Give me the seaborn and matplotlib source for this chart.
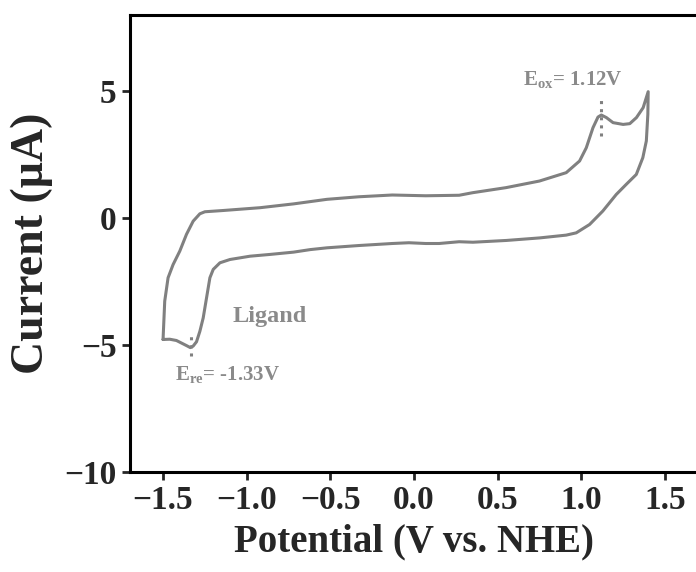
import numpy as np
import matplotlib
matplotlib.use("Agg")
import matplotlib.pyplot as plt
import pandas as pd
import seaborn as sns

# Cyclic voltammogram of the ligand
potential = [-1.50, -1.49, -1.47, -1.44, -1.40, -1.36, -1.32, -1.28, -1.25, -1.14,
             -0.92, -0.72, -0.52, -0.33, -0.13, 0.07, 0.27, 0.35, 0.55, 0.75,
             0.91, 0.99, 1.03, 1.07, 1.10, 1.12, 1.15, 1.19, 1.25, 1.29,
             1.33, 1.37, 1.40,
             1.398, 1.389, 1.368, 1.329, 1.269, 1.209, 1.129, 1.050, 0.970, 0.910,
             0.751, 0.552, 0.352, 0.27, 0.15, 0.07, -0.03, -0.13, -0.33, -0.52,
             -0.62, -0.72, -0.86, -0.98, -1.10, -1.16, -1.20, -1.22, -1.24, -1.26,
             -1.28, -1.30, -1.32, -1.337, -1.36, -1.39, -1.42, -1.46, -1.50]
current = [-4.78, -3.27, -2.35, -1.83, -1.30, -0.64, -0.12, 0.17, 0.25, 0.30,
           0.41, 0.56, 0.74, 0.84, 0.91, 0.88, 0.90, 1.00, 1.20, 1.46,
           1.79, 2.25, 2.77, 3.56, 3.98, 4.06, 3.96, 3.76, 3.69, 3.72,
           3.96, 4.35, 4.98,
           4.09, 3.04, 2.38, 1.72, 1.33, 0.93, 0.28, -0.25, -0.58, -0.67,
           -0.78, -0.88, -0.95, -0.93, -1.00, -1.00, -0.97, -1.00, -1.08, -1.17,
           -1.24, -1.34, -1.43, -1.50, -1.63, -1.76, -2.02, -2.35, -3.14, -3.93,
           -4.46, -4.87, -5.04, -5.10, -5.02, -4.92, -4.82, -4.77, -4.78]

e_ox = 1.12
e_re = -1.33
ox_marker = [3.23, 4.74]
re_marker = [-5.44, -4.52]

df = pd.DataFrame({"Potential": potential, "Current": current})

sns.set_theme(style="ticks")
plt.rcParams["font.family"] = ["Liberation Serif", "DejaVu Serif"]
plt.rcParams["font.weight"] = "bold"
plt.rcParams["mathtext.fontset"] = "custom"
plt.rcParams["mathtext.rm"] = "Liberation Serif:bold"
plt.rcParams["mathtext.bf"] = "Liberation Serif:bold"

line_grey = "#808080"
text_grey = "#8a8a8a"

fig = plt.figure(figsize=(6.96, 5.72), dpi=100)
ax = fig.add_axes([0.1862, 0.1748, 0.8172, 0.799])

sns.lineplot(data=df, x="Potential", y="Current", sort=False, estimator=None,
             color=line_grey, linewidth=2.2, ax=ax)

# peak markers
ax.plot([e_ox, e_ox], ox_marker, linestyle=":", color=line_grey, linewidth=2.2)
ax.plot([e_re, e_re], re_marker, linestyle=":", color=line_grey, linewidth=2.2)

ax.text(0.651, 5.21, r"E$_{\mathbf{ox}}$= 1.12V", color=text_grey, fontsize=15,
        fontweight="bold", ha="left", va="baseline")
ax.text(-1.431, -6.40, r"E$_{\mathbf{re}}$= -1.33V", color=text_grey, fontsize=15,
        fontweight="bold", ha="left", va="baseline")
ax.text(-0.863, -4.10, "Ligand", color=text_grey, fontsize=17.5,
        fontweight="bold", ha="center", va="baseline")

ax.set_xlim(-1.7, 1.7)
ax.set_ylim(-10, 8)
ax.set_xticks([-1.5, -1.0, -0.5, 0.0, 0.5, 1.0, 1.5])
ax.set_yticks([-10, -5, 0, 5])
ax.set_xlabel("Potential (V vs. NHE)", fontsize=28, fontweight="bold", labelpad=5)
ax.set_ylabel("Current (μA)", fontsize=33, fontweight="bold", labelpad=8)
ax.tick_params(axis="both", labelsize=24, width=2, length=6, direction="out")
for lab in ax.get_xticklabels() + ax.get_yticklabels():
    lab.set_fontweight("bold")
for side in ["left", "right", "top", "bottom"]:
    ax.spines[side].set_linewidth(2.2)
    ax.spines[side].set_color("black")

fig.savefig("out.png", dpi=100)
